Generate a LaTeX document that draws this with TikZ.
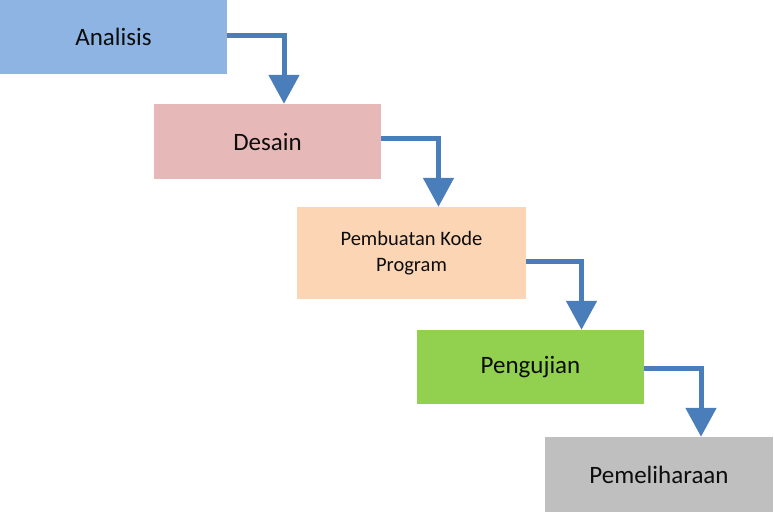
\documentclass[tikz,border=0pt]{standalone}
\usepackage{fontspec}
\setmainfont{Carlito}
\usetikzlibrary{arrows.meta}
\definecolor{cblue}{HTML}{8EB4E3}
\definecolor{cpink}{HTML}{E6B9B8}
\definecolor{cpeach}{HTML}{FCD5B5}
\definecolor{cgreen}{HTML}{92D050}
\definecolor{cgray}{HTML}{BFBFBF}
\definecolor{carrow}{HTML}{4A7EBB}
\begin{document}
\begin{tikzpicture}[x=1pt,y=-1pt,
  phase/.style={inner sep=0pt, minimum width=227pt, minimum height=75pt, align=center,
    font=\fontsize{25}{30}\selectfont, text=black!95},
  flow/.style={draw=carrow, line width=5pt, -{Triangle[width=30pt,length=29pt]}}]
\useasboundingbox (0,0) rectangle (774,514);
\node[phase, fill=cblue, minimum height=74pt] (a) at (113.5,37) {Analisis};
\node[phase, fill=cpink] (b) at (267.5,141.5) {Desain};
\node[phase, fill=cpeach, minimum width=229pt, minimum height=92pt,
  font=\fontsize{20.5}{26}\selectfont] (c) at (411.5,253) {Pembuatan Kode\\Program};
\node[phase, fill=cgreen, minimum height=74pt] (d) at (530.5,367) {Pengujian};
\node[phase, fill=cgray, minimum width=228pt] (e) at (659,474.5) {Pemeliharaan};
\draw[flow] ([yshift=2pt]a.east) -| ([xshift=16.5pt]b.north);
\draw[flow] ([yshift=3.5pt]b.east) -| ([xshift=27pt]c.north);
\draw[flow] ([yshift=-8pt]c.east) -| ([xshift=51pt]d.north);
\draw[flow] ([yshift=-1pt]d.east) -| ([xshift=42pt]e.north);
\end{tikzpicture}
\end{document}
